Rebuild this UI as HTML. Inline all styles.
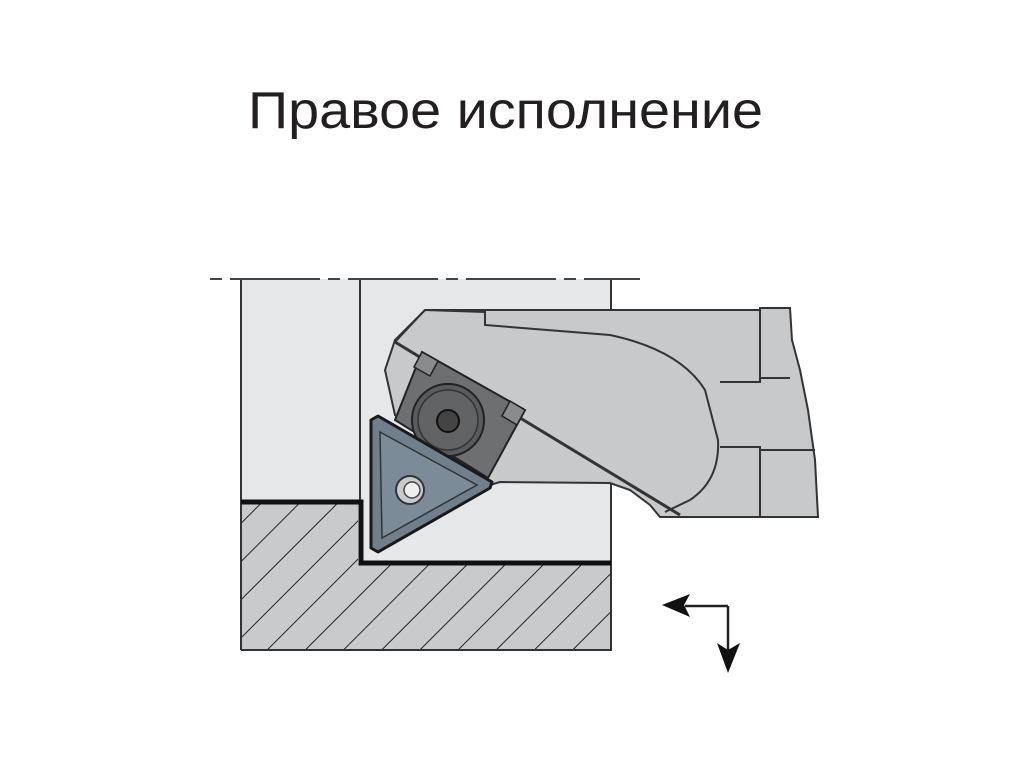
<!DOCTYPE html>
<html><head><meta charset="utf-8"><style>
html,body{margin:0;padding:0;background:#fff;width:1024px;height:768px;overflow:hidden}
</style></head><body>
<svg width="1024" height="768" viewBox="0 0 1024 768" xmlns="http://www.w3.org/2000/svg">
<defs>
<pattern id="h" patternUnits="userSpaceOnUse" width="27" height="27" patternTransform="rotate(45)">
<rect width="27" height="27" fill="#c9cacc"/>
<line x1="0" y1="0" x2="0" y2="27" stroke="#222" stroke-width="2"/>
</pattern>
</defs>
<text x="248" y="128" font-family="Liberation Sans, sans-serif" font-size="52" fill="#231f20" textLength="515" lengthAdjust="spacingAndGlyphs">Правое исполнение</text>

<rect x="241" y="279" width="370" height="225" fill="#e6e7e9"/>
<rect x="358" y="279" width="253" height="285" fill="#e6e7e9"/>
<path d="M241 503 L358 503 L358 563 L611 563 L611 650 L241 650 Z" fill="url(#h)"/>
<path d="M241 650 L611 650 L611 279 M241 650 L241 279 M360 279 L360 503" fill="none" stroke="#333" stroke-width="2"/>
<path d="M241 502 L361 502 L361 563 L611 563" fill="none" stroke="#111" stroke-width="5"/>
<line x1="210" y1="279" x2="640" y2="279" stroke="#444" stroke-width="2" stroke-dasharray="12,8,90,8"/>

<path d="M425 310 L760 310 L760 308 L790 308 L792 340 L800 370 L808 410 L815 460 L818 517 L680 517 L660 517 L650 505 L630 490 L610 483 L500 482 L490 485 L395 415 L385 370 L395 340 Z" fill="#c8c9cb" stroke="#333" stroke-width="2"/>
<path d="M425 310 L485 312 L485 325 L610 335 Q680 350 705 390 L718 440 Q720 480 690 500 L665 512" fill="none" stroke="#333" stroke-width="2"/>
<path d="M720 382 L760 382 L760 310 M720 447 L760 447 L760 517 M760 378 L790 378 M760 450 L815 450" fill="none" stroke="#333" stroke-width="2"/>
<path d="M395 342 L680 515" fill="none" stroke="#333" stroke-width="3"/>
<path d="M425 310 L395 342" fill="none" stroke="#333" stroke-width="2"/>

<path d="M422 352 L525 410 L488 478 L395 420 Z" fill="#6e6f71" stroke="#222" stroke-width="2"/>
<path d="M422 352 L438 361 L430 376 L414 367 Z M510 401 L525 410 L517 425 L502 416 Z" fill="#8a8b8d" stroke="#222" stroke-width="1.5"/>
<circle cx="448" cy="420" r="36" fill="#5a5b5d" stroke="#222" stroke-width="2"/>
<circle cx="448" cy="420" r="30" fill="#626365" stroke="#333" stroke-width="1.5"/>
<circle cx="448" cy="421" r="11" fill="#444" stroke="#111" stroke-width="2"/>

<path d="M371 420 L378 416 L492 482 L490 488 L378 552 L371 548 Z" fill="#6f7f8c" stroke="#1a1a1a" stroke-width="3" stroke-linejoin="round"/>
<path d="M380 432 L477 485 L382 538 Z" fill="#7b8b98" stroke="#333" stroke-width="1.5"/>
<circle cx="410" cy="490" r="14" fill="#c9cacc" stroke="#333" stroke-width="2"/>
<circle cx="412" cy="490" r="8" fill="#eee" stroke="#444" stroke-width="1.5"/>

<path d="M728 606 L685 606 M728 606 L728 655" fill="none" stroke="#222" stroke-width="2.5"/>
<path d="M662 605 L690 594 L684 605 L690 617 Z" fill="#111"/>
<path d="M728 673 L717 643 L728 650 L740 643 Z" fill="#111"/>
</svg>
</body></html>
